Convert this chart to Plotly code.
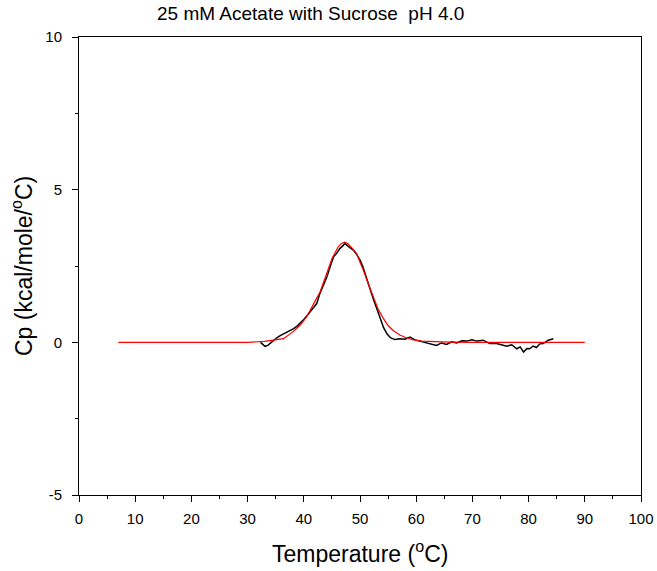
import plotly.graph_objects as go

# Measured DSC trace (black)
black_x = [32.3, 32.8, 33.1, 33.6, 34.1, 34.6, 35.2, 35.8, 36.4, 37.0, 37.5, 38.2, 38.8, 39.3,
           40.0, 40.6, 41.1, 41.7, 42.3, 42.9, 43.5, 44.1, 44.7, 45.3, 45.9, 46.4, 46.9, 47.3,
           47.8, 48.3, 48.8, 49.4, 50.0, 50.5, 50.9, 51.4, 51.8, 52.4, 53.0, 53.6, 54.2, 54.8,
           55.4, 56.2, 57.1, 58.0, 58.9, 59.8, 60.7, 61.6, 62.5, 63.6, 64.5, 65.4, 66.3, 67.2,
           68.1, 69.0, 69.9, 70.8, 71.9, 73.1, 74.3, 75.2, 76.1, 77.0, 77.9, 78.5, 79.1, 79.7,
           80.2, 80.8, 81.4, 82.0, 82.6, 83.5, 84.4]
black_y = [0.0, -0.08, -0.13, -0.10, -0.02, 0.07, 0.15, 0.22, 0.28, 0.33, 0.37, 0.45, 0.53, 0.61,
           0.75, 0.88, 0.99, 1.12, 1.27, 1.62, 1.88, 2.14, 2.48, 2.80, 2.93, 3.07, 3.15, 3.24,
           3.16, 3.10, 3.02, 2.88, 2.69, 2.48, 2.25, 2.00, 1.70, 1.40, 1.10, 0.75, 0.48, 0.28,
           0.15, 0.09, 0.12, 0.10, 0.17, 0.08, 0.04, 0.00, -0.04, -0.10, -0.02, -0.07, 0.02, -0.02,
           0.05, 0.04, 0.08, 0.04, 0.07, -0.04, -0.04, -0.08, -0.13, -0.08, -0.21, -0.15, -0.32, -0.20,
           -0.21, -0.12, -0.17, -0.05, -0.04, 0.07, 0.12]

# Fitted curve (red)
fit_x = [7, 30, 33, 35, 36.4, 38.1, 39.3, 40.5, 41.1, 42.0, 42.9, 43.5, 44.2, 45.0, 46.1, 46.7,
         47.3, 47.9, 48.8, 49.4, 50.0, 50.6, 51.5, 52.4, 53.2, 54.1, 55.0, 56.0, 57.1, 58.2,
         59.5, 61, 63, 66, 70, 90]
fit_y = [0, 0.0, 0.03, 0.07, 0.12, 0.35, 0.55, 0.83, 1.05, 1.35, 1.65, 1.95, 2.30, 2.74, 3.12, 3.24,
         3.28, 3.22, 3.04, 2.91, 2.62, 2.36, 1.90, 1.45, 1.10, 0.80, 0.55, 0.37, 0.24, 0.15,
         0.08, 0.04, 0.02, 0.01, 0, 0]

x_ticks = [0, 10, 20, 30, 40, 50, 60, 70, 80, 90, 100]
x_labels = ["0", "10", "20", "30", "40", "50", "60", "70", "80", "90", "100"]
y_ticks = [-5, 0, 5, 10]
y_labels = ["-5", "0", "5", "10"]

title_text = "25 mM Acetate with Sucrose&nbsp;&nbsp;pH 4.0"
x_title = "Temperature (<sup>o</sup>C)"
y_title = "Cp (kcal/mole/<sup>o</sup>C)"

font_family = "Liberation Sans, Arial, sans-serif"

fig = go.Figure()
fig.add_trace(go.Scatter(x=black_x, y=black_y, mode="lines",
                         line=dict(color="black", width=1.5), showlegend=False))
fig.add_trace(go.Scatter(x=fit_x, y=fit_y, mode="lines",
                         line=dict(color="red", width=1.2), showlegend=False))

fig.update_layout(
    width=657, height=571,
    margin=dict(l=79, r=16, t=37, b=76, autoexpand=False),
    paper_bgcolor="white", plot_bgcolor="white",
    font=dict(family=font_family, color="black"),
    xaxis=dict(range=[0, 100], tickvals=x_ticks, ticktext=x_labels, ticks="outside", ticklen=6,
               tickwidth=1, tickcolor="black", showline=True, linecolor="black", linewidth=1,
               mirror=True, showgrid=False, zeroline=False, tickfont=dict(size=15),
               ticklabelstandoff=4, automargin=False,
               minor=dict(dtick=5, ticks="outside", ticklen=3, tickcolor="black")),
    yaxis=dict(range=[-5, 10], tickvals=y_ticks, ticktext=y_labels, ticks="outside", ticklen=6,
               tickwidth=1, tickcolor="black", showline=True, linecolor="black", linewidth=1,
               mirror=True, showgrid=False, zeroline=False, tickfont=dict(size=15),
               ticklabelstandoff=7, automargin=False,
               minor=dict(dtick=2.5, ticks="outside", ticklen=3, tickcolor="black")),
    annotations=[
        dict(text=title_text, xref="paper", yref="paper", x=(310 - 79) / 562, y=1,
             yshift=24, xanchor="center", yanchor="middle", showarrow=False,
             font=dict(size=19)),
        dict(text=x_title, xref="paper", yref="paper", x=0.5, y=0, yshift=-57,
             xanchor="center", yanchor="middle", showarrow=False, font=dict(size=23)),
        dict(text=y_title, xref="paper", yref="paper", x=0, y=0.5, xshift=-57,
             xanchor="center", yanchor="middle", showarrow=False, textangle=-90,
             font=dict(size=23)),
    ],
)

fig.write_html("out.html", config={"displayModeBar": False})

# remove the browser's default 8px body margin so the figure fills the window exactly
with open("out.html", "r", encoding="utf-8") as f:
    html = f.read()
html = html.replace("<head>", "<head><style>html,body{margin:0;padding:0;}</style>", 1)
with open("out.html", "w", encoding="utf-8") as f:
    f.write(html)
